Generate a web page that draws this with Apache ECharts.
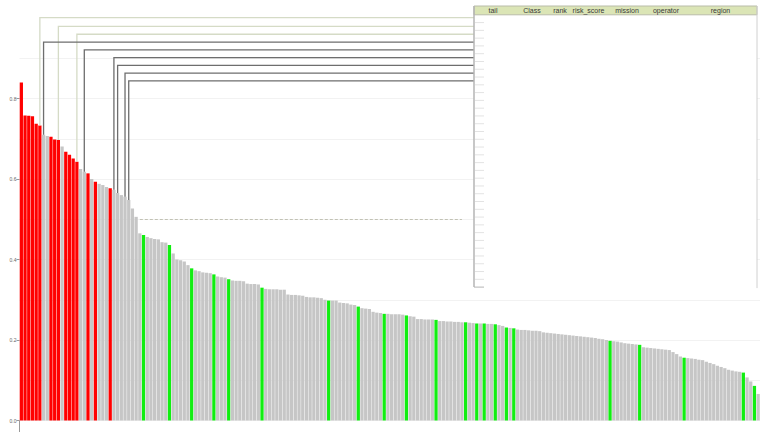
<!DOCTYPE html>
<html><head><meta charset="utf-8">
<script src="https://cdn.jsdelivr.net/npm/echarts@6/dist/echarts.min.js"></script>
<style>html,body{margin:0;padding:0;background:#fff}#c{width:760px;height:432px}</style>
</head><body><div id="c"></div><script>
// ---- data ----
const riskScore = [
 .840,.758,.757,.756,.737,.733,.710,.707,.705,.698,
 .697,.681,.668,.660,.651,.643,.625,.618,.614,.600,
 .593,.588,.585,.580,.577,.573,.565,.560,.556,.548,
 .527,.506,.465,.461,.456,.453,.451,.450,.443,.442,
 .436,.415,.400,.398,.395,.386,.378,.373,.371,.368,
 .367,.366,.363,.358,.356,.355,.351,.348,.347,.347,
 .346,.340,.339,.339,.338,.330,.327,.326,.326,.326,
 .325,.325,.313,.312,.312,.311,.310,.307,.306,.306,
 .305,.304,.300,.298,.298,.298,.293,.292,.291,.288,
 .287,.283,.279,.278,.277,.270,.268,.267,.265,.265,
 .264,.264,.264,.263,.261,.259,.258,.252,.252,.251,
 .251,.251,.250,.247,.247,.246,.246,.245,.245,.244,
 .244,.243,.242,.241,.241,.241,.240,.240,.239,.237,
 .235,.231,.230,.229,.226,.225,.225,.224,.223,.223,
 .222,.219,.218,.217,.216,.215,.214,.213,.212,.211,
 .210,.209,.208,.207,.206,.205,.203,.202,.200,.198,
 .197,.196,.194,.192,.191,.190,.189,.188,.182,.181,
 .180,.179,.178,.177,.176,.175,.170,.165,.159,.156,
 .155,.154,.153,.151,.150,.146,.143,.140,.136,.133,
 .130,.126,.124,.122,.121,.119,.107,.097,.086,.066
];
const ranks = riskScore.map((_, i) => String(i + 1));
const redRanks = [1,2,3,4,5,6,9,10,11,13,14,15,16,19,21,25];
const greenRanks = [34,41,47,53,57,66,84,92,99,105,113,121,124,126,129,132,134,160,168,180,196,199];
const leaderRanks = [6,11,16,7,18,26,27,29,30];
const tableColumns = ['tail','Class','rank','risk_score','mission','operator','region'];
const threshold = 0.5;
const thresholdStartRank = 33;
const thresholdEndRank = 120;
const yTickValues = [0, 0.2, 0.4, 0.6, 0.8];

// ---- styles / layout ----
const RED = '#ff0000', GREEN = '#11ee11', GREY = '#c6c6c6';
const table = { left: 474, right: 757, top: 6, headerH: 8.8, rowH: 7.78, rows: 35 };
const colCenters = [493, 532, 560, 588.5, 627, 666, 720.5];

function colorOf(rank) {
  if (redRanks.includes(rank)) return RED;
  if (greenRanks.includes(rank)) return GREEN;
  return GREY;
}

const chart = echarts.init(document.getElementById('c'), null, { renderer: 'svg' });
chart.setOption({
  animation: false,
  grid: { left: 19.5, right: 0, top: 18, bottom: 11.5, containLabel: false },
  xAxis: {
    type: 'category', data: ranks, boundaryGap: true,
    axisLine: { show: false },
    axisLabel: { show: false },
    axisTick: { show: true, interval: (i) => i === 0, length: 12, lineStyle: { color: '#9a9a9a', width: 1 } }
  },
  yAxis: {
    type: 'value', min: 0, max: 1.0, interval: 0.2,
    axisLine: { show: false },
    axisTick: { show: true, length: 3, customValues: yTickValues, lineStyle: { color: '#999' } },
    axisLabel: { fontSize: 5, color: '#666', margin: 3, customValues: yTickValues,
                 formatter: (v) => v.toFixed(1), fontFamily: 'Liberation Sans' },
    splitLine: { show: true, lineStyle: { color: '#f2f2f2', width: 1 } },
    minorTick: { show: false, splitNumber: 2 },
    minorSplitLine: { show: true, lineStyle: { color: '#f2f2f2', width: 1 } }
  },
  series: [
    {
      type: 'bar', z: 2, barGap: '-100%', barCategoryGap: '12%',
      data: riskScore.map((v, i) => ({ value: v, itemStyle: { color: colorOf(i + 1) } })),
      markLine: {
        symbol: 'none', silent: true, label: { show: false },
        lineStyle: { color: '#c2c2b4', type: [3, 2], width: 1 },
        data: [[{ coord: [thresholdStartRank - 1, threshold] }, { coord: [thresholdEndRank - 1, threshold] }]]
      }
    }
  ]
});

// ---- table overlay and leader lines ----
const g = [];
const tableBottom = table.top + table.headerH + table.rowH * table.rows;
g.push({ type: 'rect', z: 10, shape: { x: table.left, y: table.top, width: table.right - table.left, height: tableBottom - table.top },
         style: { fill: '#ffffff', stroke: null } });
g.push({ type: 'rect', z: 11, shape: { x: table.left, y: table.top, width: table.right - table.left, height: table.headerH },
         style: { fill: '#dbe5b6', stroke: '#b9bca8', lineWidth: 1 } });
tableColumns.forEach((t, k) => {
  g.push({ type: 'text', z: 12, style: { text: t, x: colCenters[k], y: table.top + table.headerH / 2 + 0.3,
    align: 'center', verticalAlign: 'middle', fontSize: 7, fontFamily: 'Liberation Sans', fill: '#3a3a3a' } });
});
g.push({ type: 'line', z: 12, shape: { x1: table.left, y1: table.top, x2: table.left, y2: tableBottom },
         style: { stroke: '#b4b4b4', lineWidth: 1.5 } });
g.push({ type: 'line', z: 12, shape: { x1: table.right, y1: table.top, x2: table.right, y2: tableBottom + 1 },
         style: { stroke: '#d0d0d0', lineWidth: 1 } });
g.push({ type: 'line', z: 12, shape: { x1: table.left, y1: tableBottom, x2: table.left + 10, y2: tableBottom },
         style: { stroke: '#b4b4b4', lineWidth: 1 } });
for (let k = 1; k < table.rows; k++) {
  const y = table.top + table.headerH + table.rowH * k;
  g.push({ type: 'line', z: 12, shape: { x1: table.left + 1, y1: y, x2: table.left + 10, y2: y },
           style: { stroke: '#e3e3e3', lineWidth: 1 } });
}
leaderRanks.forEach((rank, k) => {
  const p = chart.convertToPixel({ xAxisIndex: 0, yAxisIndex: 0 }, [rank - 1, riskScore[rank - 1]]);
  const rowY = table.top + table.headerH + table.rowH * (k + 0.5) - (k === 0 ? 1 : 0);
  const light = redRanks.includes(rank);
  g.push({ type: 'polyline', z: 9, shape: { points: [[p[0], p[1]], [p[0], rowY], [table.left, rowY]] },
           style: { fill: null, stroke: light ? '#d5dbc6' : '#6e6e6e', lineWidth: 1.3 } });
});
chart.setOption({ graphic: g });
</script></body></html>
